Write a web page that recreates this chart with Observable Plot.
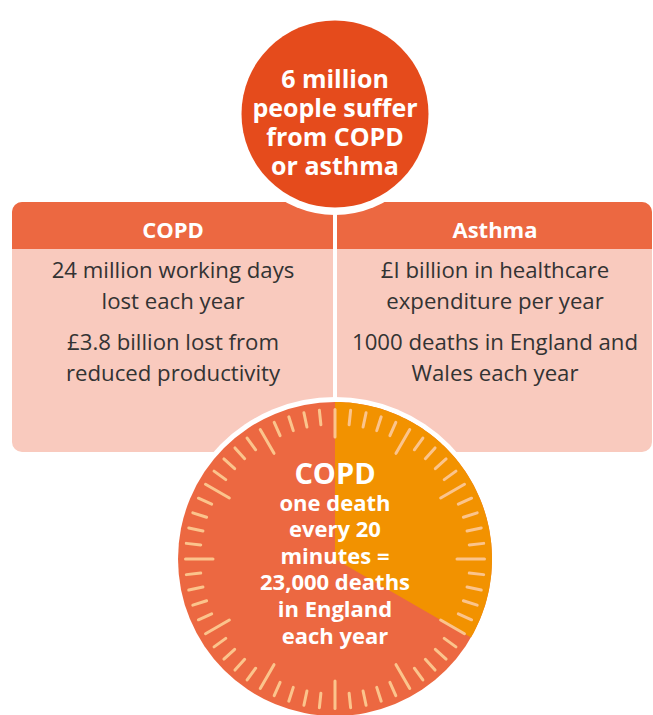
<!DOCTYPE html>
<html>
<head>
<meta charset="utf-8">
<script src="https://cdn.jsdelivr.net/npm/d3@7"></script>
<script src="https://cdn.jsdelivr.net/npm/@observablehq/plot@0.6"></script>
<style>
  html, body { margin: 0; padding: 0; background: #fff; }
  #chart svg { display: block; }
</style>
</head>
<body>
<div id="chart"></div>
<script>
// ---- data ----
const headline = ["6 million", "people suffer", "from COPD", "or asthma"];
const panelTitles = ["COPD", "Asthma"];
const copdFacts = [["24 million working days", "lost each year"], ["£3.8 billion lost from", "reduced productivity"]];
const asthmaFacts = [["£I billion in healthcare", "expenditure per year"], ["1000 deaths in England and", "Wales each year"]];
const clockTitle = ["COPD"];
const clockLines = ["one death", "every 20", "minutes =", "23,000 deaths", "in England", "each year"];
const minutesPerDeath = 20;
const minutesInHour = 60;

// ---- layout / style ----
const W = 653, H = 715;
const FONT = "'Open Sans', 'Noto Sans', sans-serif";
const C = {
  top: "#e54b1c", header: "#ec6841", body: "#f9cabe", clock: "#ec6841",
  wedge: "#f29200", tick: "#fbc48c", text: "#333333"
};
const topC = {x: 334.5, y: 113.5, r: 93.5, ring: 101};
const clk = {x: 334.5, y: 558.5, r: 157, ring: 162, outer: 149.5, major: 122, minor: 135};
const panelX = [[12, 333], [337, 652]];
const boxTop = 202, headBottom = 249, boxBottom = 452;

const panels = panelTitles.map((t, i) => ({
  title: t, x1: panelX[i][0], x2: panelX[i][1], cx: (panelX[i][0] + panelX[i][1]) / 2,
  facts: i === 0 ? copdFacts : asthmaFacts
}));
// each paragraph is one multi-line text; y is the baseline of its last line
const factParas = panels.flatMap(p => p.facts.map((lines, j) => ({text: lines.join("\n"), x: p.cx, y: 308 + j * 72})));

// clock ticks
const ticks = d3.range(minutesInHour).map(m => {
  const a = m / minutesInHour * 2 * Math.PI;
  const rin = m % 5 === 0 ? clk.major : clk.minor;
  return {
    x1: clk.x + Math.sin(a) * rin, y1: clk.y - Math.cos(a) * rin,
    x2: clk.x + Math.sin(a) * clk.outer, y2: clk.y - Math.cos(a) * clk.outer
  };
});
// wedge polygon for minutesPerDeath
const wedgeEnd = minutesPerDeath / minutesInHour * 360;
const wedge = [{x: clk.x, y: clk.y}]
  .concat(d3.range(0, wedgeEnd + 0.001, 1).map(deg => {
    const a = deg * Math.PI / 180;
    return {x: clk.x + Math.sin(a) * clk.r, y: clk.y - Math.cos(a) * clk.r};
  }))
  .concat([{x: clk.x, y: clk.y}]);

const shadowLayers = d3.range(0, 13);

const plot = Plot.plot({
  width: W, height: H,
  margin: 0,
  style: {background: "#fff", fontFamily: FONT},
  x: {domain: [0, W], range: [0, W], axis: null},
  y: {domain: [0, H], range: [0, H], axis: null},
  marks: [
    // panels
    Plot.rect(panels, {x1: "x1", x2: "x2", y1: boxTop, y2: boxBottom, fill: C.body, rx: 10}),
    Plot.rect(panels, {x1: "x1", x2: "x2", y1: boxTop, y2: headBottom, fill: C.header, rx: 10}),
    Plot.rect(panels, {x1: "x1", x2: "x2", y1: boxTop + 15, y2: headBottom, fill: C.header}),
    Plot.text(panels, {x: "cx", y: 237, text: "title", fill: "#fff", fontSize: 22, fontWeight: "bold", lineAnchor: "bottom"}),
    Plot.text(factParas, {x: "x", y: "y", text: "text", fill: C.text, fontSize: 22.2, fontWeight: "normal", lineHeight: 31 / 22.2, lineAnchor: "bottom"}),

    // clock
    Plot.dot([clk], {x: "x", y: "y", r: clk.ring, fill: "#fff"}),
    Plot.dot([clk], {x: "x", y: "y", r: clk.r, fill: C.clock}),
    Plot.line(wedge, {x: "x", y: "y", fill: C.wedge, stroke: "none"}),
    Plot.link(ticks, {x1: "x1", y1: "y1", x2: "x2", y2: "y2", stroke: C.tick, strokeWidth: 3, strokeLinecap: "round"}),
    Plot.text(clockTitle, {x: clk.x, y: 483, text: d => d, fill: "#fff", fontSize: 29, fontWeight: "bold", lineAnchor: "bottom"}),
    Plot.text([clockLines.join("\n")], {x: clk.x, y: 643, text: d => d, fill: "#fff", fontSize: 22, fontWeight: "bold", lineHeight: 26.6 / 22, lineAnchor: "bottom"}),

    // top circle with shadow
    Plot.dot(shadowLayers, {x: topC.x, y: topC.y + 2, r: k => topC.ring + k, fill: "#000", fillOpacity: 0.03}),
    Plot.dot([topC], {x: "x", y: "y", r: topC.ring, fill: "#fff"}),
    Plot.dot([topC], {x: "x", y: "y", r: topC.r, fill: C.top}),
    Plot.text([headline.join("\n")], {x: topC.x, y: 174, text: d => d, fill: "#fff", fontSize: 25, fontWeight: "bold", lineHeight: 29 / 25, lineAnchor: "bottom"})
  ]
});
document.getElementById("chart").appendChild(plot);
</script>
</body>
</html>
